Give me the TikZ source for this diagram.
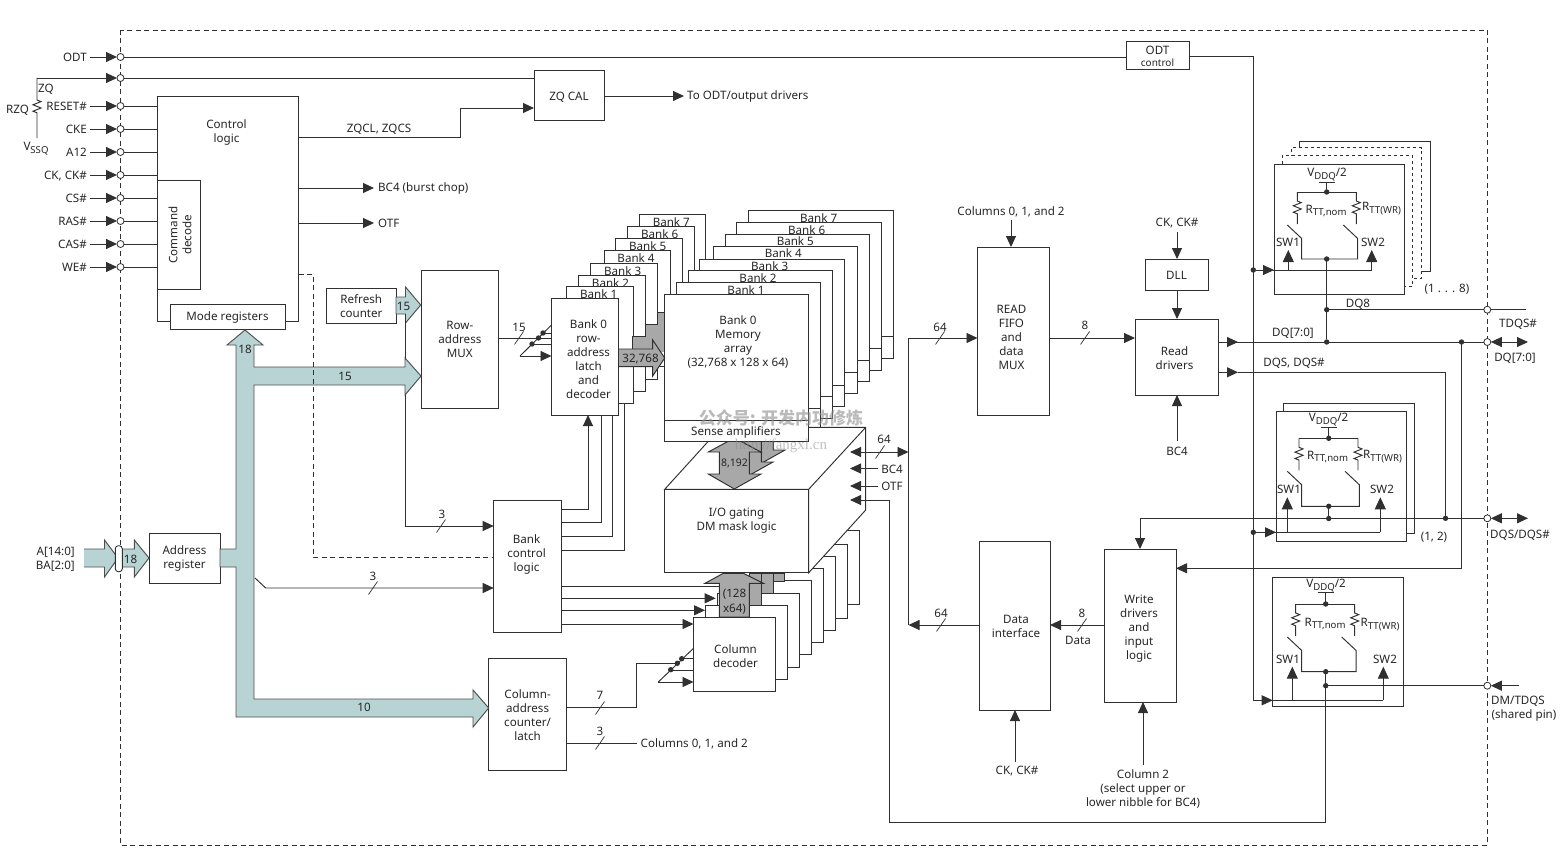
\documentclass[tikz,border=0pt]{standalone}
\usepackage{fontspec}
\setmainfont{Noto Sans}
\newfontfamily\cjk{Noto Sans CJK SC}
\newfontfamily\wmserif{Liberation Serif}
\usetikzlibrary{arrows.meta,calc}
\definecolor{ln}{HTML}{303030}
\definecolor{teal}{HTML}{B7D3D3}
\definecolor{gr}{HTML}{A8A8A8}
\tikzset{
  lab/.style={inner sep=0pt,align=center,text=black!85,yshift=-0.8pt,font=\fontsize{11.6}{14}\selectfont},
  box/.style={draw=ln,line width=1pt,fill=white,inner sep=0pt,outer sep=0pt},
  wire/.style={draw=ln,line width=0.95pt},
  tip/.style={-{Triangle[length=11pt,width=10pt]}},
  ptip/.style={{Triangle[length=11pt,width=10pt]}-{Triangle[length=11pt,width=10pt]}},
  pinc/.style={circle,draw=ln,fill=white,line width=0.8pt,minimum size=7pt,inner sep=0pt,outer sep=0pt},
  dotn/.style={circle,fill=ln,minimum size=5.4pt,inner sep=0pt,outer sep=0pt},
  bus/.style={draw=ln!85,line width=0.95pt,fill=teal},
  gbus/.style={draw=ln,line width=0.95pt,fill=gr}
}
\newcommand\sbs[1]{\raisebox{-2.6pt}{\fontsize{9.6}{10}\selectfont #1}}
\newcommand\blk[6]{\pgfmathsetmacro\blkW{#4-#2}\pgfmathsetmacro\blkH{#5-#3}\pgfmathsetmacro\blkX{(#2+#4)/2}\pgfmathsetmacro\blkY{(#3+#5)/2}\node[box,minimum width=\blkW pt,minimum height=\blkH pt] (#1) at (\blkX,\blkY) {};\if\relax\detokenize{#6}\relax\else\node[lab] at (#1) {#6};\fi}
\newcommand\busmark[2]{\draw[wire,line width=0.7pt] (#1-4.5,#2+6.5) -- (#1+4.5,#2-6.5);}
\newcommand\zigr[4]{\draw[wire] (#1,#2) -- (#1,#3) -- ++(4,1.6) -- ++(-8,3.2) -- ++(8,3.2) -- ++(-8,3.2) -- ++(4,1.6) -- (#1,#4);}
\newcommand\gdbl[2]{\draw[gbus] (734.3+#1,438+#2) -- (761+#1,452+#2) -- (749.3+#1,452+#2) -- (749.3+#1,474+#2) -- (761+#1,474+#2) -- (734.3+#1,489+#2) -- (708.3+#1,474+#2) -- (719.3+#1,474+#2) -- (719.3+#1,452+#2) -- (708.3+#1,452+#2) -- cycle;}
\newcommand\netw[7]{%
  \draw[wire] (#2-8,#4) -- (#2+8,#4);
  \draw[wire] (#2,#4) -- (#2,#5);
  \draw[wire] (#1,#5) -- (#3,#5);
  \zigr{#1}{#5}{#5+9}{#5+32}
  \zigr{#3}{#5}{#5+9}{#5+32}
  \draw[wire] (#7,#5+33) -- (#7+14.4,#5+46.5) -- (#7+14.4,#6) -- (#3+1.4,#6) -- (#3+1.4,#5+46.5) -- (#3-13,#5+33);
  \node[dotn] at (#2,#5) {};
  \node[dotn] at (#2,#6) {};
}
\begin{document}
\begin{tikzpicture}[x=1pt,y=-1pt]
\useasboundingbox (0,0) rectangle (1562,864);
\draw[ln,line width=0.9pt,dash pattern=on 5pt off 3.5pt] (120.5,30) rectangle (1487.3,845);

% decoder bank stack
\foreach \xa/\ya/\t in {639.3/214/7,627.7/226.7/6,615.7/238.7/5,604/250/4,590.7/263/3,578.5/275/2,566.7/286.7/1}{
  \pgfmathsetmacro\xb{\xa+66.5}\pgfmathsetmacro\yb{\ya+116.5}
  \blk{dec\t}{\xa}{\ya}{\xb}{\yb}{}
  \node[lab] at (\xa+32,\ya+7) {Bank \t};
}
\fill[gr] (632.7,336) rectangle (664,352);
\fill[gr] (645.7,324) rectangle (664,340);
\fill[gr] (657.7,312) rectangle (664,328);
\draw[wire] (632.7,349) |- (645.7,336) |- (657.7,324) |- (664,312);
% memory bank stack
\foreach \xa/\ya/\t in {748.7/210.7/7,736.7/222.7/6,725.3/234.3/5,713.3/246.3/4,699.7/259/3,688/270.7/2,676/282.7/1}{
  \pgfmathsetmacro\xb{\xa+144.5}\pgfmathsetmacro\yb{\ya+147.3}\pgfmathsetmacro\yd{\ya+126}
  \blk{mem\t}{\xa}{\ya}{\xb}{\yb}{}
  \draw[wire] (\xa,\yd) -- (\xb,\yd);
  \node[lab] at (\xa+70,\ya+6.2) {Bank \t};
}
% column decoder stack
\foreach \xa/\ya/\n in {777/530.6/7,765.3/544.6/6,753.3/556.6/5,741.3/568.6/4,729.3/580.3/3,717.3/593.3/2,705.3/605.7/1}{
  \pgfmathsetmacro\xb{\xa+82}\pgfmathsetmacro\yb{\ya+73.7}
  \blk{col\n}{\xa}{\ya}{\xb}{\yb}{}
}
\draw[gbus] (773.3,573) rectangle (784.3,581);
\draw[gbus] (761.7,573) rectangle (773.3,593.3);
\draw[gbus] (749.3,573) rectangle (761.7,605.7);
\draw[gbus] (705,583.3) -- (723.3,573.3) -- (743.3,573.3) -- (763.3,583.3) -- (749.3,583.3) -- (749.3,617) -- (719.3,617) -- (719.3,583.3) -- cycle;
\node[lab] at (734.5,593) {(128};
\node[lab] at (734.5,608) {x64)};
% I/O gating 3D block
\draw[wire,fill=white] (664.7,489.3) -- (721,427.3) -- (865.7,427.3) -- (865.7,510) -- (808.7,572.7) -- (808.7,489.3) -- cycle;
\draw[wire] (808.7,489.3) -- (865.7,427.3);
\blk{io}{664.7}{489.3}{808.7}{572.7}{}
\node[lab] at (736.5,520) {I/O gating\\DM mask logic};
\gdbl{24}{-24}
\gdbl{12}{-12}
\gdbl{0}{0}
\draw[wire,dashed,line width=0.6pt] (743,441.7) -- (761,452.7);
\node[lab,font=\fontsize{10.5}{12}\selectfont] at (734.5,463) {8,192};
% bank 0 memory
\blk{mem0}{664.5}{294.3}{808.7}{441.7}{}
\draw[wire] (mem0.west |- 0,420.5) -- (mem0.east |- 0,420.5);
\node[lab] at (738,341) {Bank 0\\Memory\\array\\(32,768 x 128 x 64)};
\node[lab] at (736,432) {Sense amplifiers};
% row decoder front
\draw[gbus] (618.5,349) -- (652.7,349) -- (652.7,340) -- (664.7,358) -- (652.7,376) -- (652.7,366.7) -- (618.5,366.7) -- cycle;
\node[lab] at (640.5,358) {32,768};
\blk{dec0}{551.5}{298.5}{618.5}{415}{}
\node[lab] at (588.5,358) {Bank 0\\row-\\address\\latch\\and\\decoder};
% column decoder front
\blk{coldec}{693.5}{617.3}{775.5}{691}{}
\node[lab] at (735.5,655.5) {Column\\decoder};

% control block
\blk{ctrl}{157.5}{96.5}{298.5}{321}{}
\node[lab] at (226.5,131.5) {Control\\logic};
\blk{cmd}{157.5}{180.5}{200.5}{289}{}
\node[lab,rotate=90,xshift=0.8pt] at (180,235) {Command\\decode};
\blk{mode}{170}{304}{285}{329}{Mode registers}

% pins left
\foreach \n/\t/\y in {ODT/ODT/57,RST/RESET\#/106,CKE/CKE/129,AT/A12/152,CK/{CK, CK\#}/175,CS/CS\#/198,RAS/RAS\#/221,CAS/CAS\#/244,WE/WE\#/267}{
  \node[lab,anchor=east] (l\n) at (87,\y) {\t};
  \node[pinc] (p\n) at (120.5,\y) {};
  \draw[wire,tip] (l\n.east |- p\n) ++(3,0) -- (p\n);
}
\node[pinc] (pZQ) at (120.5,78) {};
\foreach \n in {RST,CKE,AT,CK}{\draw[wire] (p\n) -- (p\n -| ctrl.west);}
\foreach \n in {CS,RAS,CAS,WE}{\draw[wire] (p\n) -- (p\n -| cmd.west);}
% ZQ / RZQ
\coordinate (zqc) at (37,78);
\draw[wire,tip] (zqc) -- (pZQ);
\zigr{37}{78}{100}{138}
\node[lab] at (46,88) {ZQ};
\node[lab] at (17.5,109) {RZQ};
\node[lab] at (36,148) {V\sbs{SSQ}};

% ZQ CAL / ODT control
\blk{zqcal}{534}{71}{604}{121}{ZQ CAL}
\blk{odtc}{1126}{42}{1189}{70}{ODT\\[-2pt]{\fontsize{10}{12}\selectfont control}}
\draw[wire] (pODT) -- (pODT -| odtc.west);
\draw[wire] (pZQ) -- (pZQ -| zqcal.west);
\draw[wire,tip] (ctrl.east |- 0,137) -- (460,137) -- (460,108) -- (zqcal.west |- 0,108);
\node[lab] at (379,128) {ZQCL, ZQCS};
\node[lab,anchor=west] (todt) at (687,95.5) {To ODT/output drivers};
\draw[wire,tip] (zqcal.east |- 0,96) -- (684,96);
\node[lab,anchor=west] (bcl) at (378,188) {BC4 (burst chop)};
\draw[wire,tip] (ctrl.east |- 0,188) -- (374,188);
\node[lab,anchor=west] (otl) at (378,223) {OTF};
\draw[wire,tip] (ctrl.east |- 0,223) -- (374,223);

% address path
\draw[bus] (84,549) -- (104.5,549) -- (104.5,540) -- (118,558) -- (104.5,577) -- (104.5,567) -- (84,567);
\node[lab,anchor=east] at (75,551) {A[14:0]};
\node[lab,anchor=east] at (75,565) {BA[2:0]};
\draw[bus] (122,549) -- (134.3,549) -- (134.3,540) -- (149,558) -- (134.3,577) -- (134.3,567) -- (122,567);
\draw[draw=ln,line width=0.9pt,fill=white,rounded corners=3pt] (115.3,545.7) rectangle (122.3,571.7);
\node[lab] at (130.5,559) {18};
\blk{areg}{149}{533}{220}{583}{Address\\register}
\blk{rowmux}{421}{270}{498.7}{408}{Row-\\address\\MUX}
\blk{refr}{326.5}{288}{396}{323}{Refresh\\counter}
\blk{cac}{488.7}{658.7}{566.5}{770.3}{Column-\\address\\counter/\\latch}
\blk{bank}{493.7}{500}{561.5}{632.3}{}
\node[lab] at (526.5,554) {Bank\\control\\logic};
\draw[bus] (245,330) -- (263,345) -- (254,345) -- (254,367) -- (405,367) -- (405,358) -- (421,376) -- (405,395) -- (405,385) -- (254,385) -- (254,699) -- (473,699) -- (473,690) -- (488.7,708) -- (473,727) -- (473,717) -- (236,717) -- (236,567) -- (220,567) -- (220,549) -- (236,549) -- (236,345) -- (227,345) -- cycle;
\node[lab] at (245,349) {18};
\node[lab] at (345,376) {15};
\node[lab] at (364,707) {10};
\draw[bus] (396,297) -- (405.5,297) -- (405.5,287) -- (420.7,305) -- (405.5,323) -- (405.5,314) -- (396,314) -- cycle;
\node[lab] at (403.5,306) {15};
\draw[wire] (405,314) -- (405,358);
\draw[wire,tip] (405,395) -- (405,526) -- (bank.west |- 0,526);
\busmark{441}{526}
\node[lab] at (442,514) {3};
\draw[wire,tip] (255,578) -- (265.7,588) -- (bank.west |- 0,588);
\busmark{373}{588}
\node[lab] at (373,576) {3};
\draw[ln,line width=0.95pt,dash pattern=on 5pt off 3.5pt] (ctrl.east |- 0,274) -- (313,274) -- (313,557) -- (bank.west |- 0,557);
% row mux to decoder
\coordinate (dr1) at (520,356);
\draw[wire] (rowmux.east |- 0,338) -- (dec0.west |- 0,338);
\draw[wire] (dr1) -- (551.5,325);
\draw[wire] (532,344) -- (dec0.west |- 0,344);
\draw[wire] (543,333) -- (dec0.west |- 0,333);
\draw[wire,tip] (dr1) -- (dec0.west |- dr1);
\foreach \p in {(532,344),(538.5,338),(543,333)}{\node[dotn] at \p {};}
\busmark{519}{338}
\node[lab] at (519,327) {15};
% bank control outputs
\draw[wire,tip] (bank.east |- 0,509.3) -- (588,509.3) -- (588,415);
\draw[wire] (bank.east |- 0,522.7) -- (601,522.7) -- (601,415);
\draw[wire] (bank.east |- 0,536.7) -- (612.7,536.7) -- (612.7,415);
\draw[wire] (bank.east |- 0,550) -- (624.3,550) -- (624.3,403);
\draw[wire] (bank.east |- 0,586.7) -- (719.3,586.7);
\draw[wire,tip] (bank.east |- 0,598.3) -- (715.7,598.3);
\draw[wire,tip] (bank.east |- 0,610.3) -- (705,610.3);
\draw[wire,tip] (bank.east |- 0,624) -- (coldec.west |- 0,624);
% column address
\coordinate (dc1) at (658.3,682);
\draw[wire] (cac.east |- 0,707.7) -- (636,707.7) -- (636,663.3) -- (677.3,663.3);
\draw[wire] (dc1) -- (693.5,648.3);
\draw[wire] (670.7,670) -- (coldec.west |- 0,670);
\draw[wire] (681.7,658.7) -- (coldec.west |- 0,658.7);
\draw[wire,tip] (dc1) -- (coldec.west |- dc1);
\foreach \p in {(670.7,669.7),(677.3,663.3),(681.7,658.7)}{\node[dotn] at \p {};}
\busmark{600}{708}
\node[lab] at (600,695) {7};
\node[lab,anchor=west] (c012) at (640.5,743) {Columns 0, 1, and 2};
\draw[wire] (cac.east |- 0,743) -- (637,743);
\busmark{600}{743}
\node[lab] at (600,731) {3};

% right-hand blocks
\blk{rfifo}{977.5}{247}{1049}{415}{}
\node[lab] at (1011.5,337) {READ\\FIFO\\and\\data\\MUX};
\blk{rdrv}{1135}{319}{1218}{395}{}
\node[lab] at (1174.5,357) {Read\\drivers};
\blk{dll}{1145}{259}{1208}{290}{DLL}
\blk{dint}{979}{541}{1050}{710}{}
\node[lab] at (1016,626) {Data\\interface};
\blk{wdrv}{1104}{549}{1176}{702}{}
\node[lab] at (1139,627.5) {Write\\drivers\\and\\input\\logic};
\draw[wire,tip] (908.5,625) -- (908.5,338) -- (rfifo.west |- 0,338);
\draw[wire,tip] (dint.west |- 0,625) -- (908.5,625);
\busmark{941}{625}
\node[lab] at (941,613) {64};
\busmark{940}{338}
\node[lab] at (940,327) {64};
\draw[wire,ptip] (850,452) -- (908.5,452);
\busmark{880}{452}
\node[lab] at (884,439) {64};
\node[lab] (bc4i) at (892,468.5) {BC4};
\draw[wire,tip] (878,468.5) -- (850,468.5);
\node[lab] (otfi) at (892,486) {OTF};
\draw[wire,tip] (878,486) -- (850,486);
\draw[wire,tip] (rfifo.east |- 0,338) -- (rdrv.west |- 0,338);
\busmark{1085}{338}
\node[lab] at (1085,325) {8};
\draw[wire,tip] (wdrv.west |- 0,625) -- (dint.east |- 0,625);
\busmark{1082}{625}
\node[lab] at (1082,613) {8};
\node[lab] at (1078,640) {Data};
\node[lab] (c012b) at (1011,211) {Columns 0, 1, and 2};
\draw[wire,tip] (1011,220) -- (1011,247);
\node[lab] (ckt) at (1177,222) {CK, CK\#};
\draw[wire,tip] (1177,232) -- (dll.north -| 1177,0);
\draw[wire,tip] (dll.south -| 1177,0) -- (1177,319);
\node[lab] (bc4r) at (1177,451) {BC4};
\draw[wire,tip] (1177,441) -- (1177,395);
\node[lab] (ckb) at (1017,770) {CK, CK\#};
\draw[wire,tip] (1015,762) -- (1015,710);
\node[lab] (col2) at (1143,788) {Column 2\\(select upper or\\lower nibble for BC4)};
\draw[wire,tip] (1143,765) -- (1143,702);

% termination boxes
\draw[wire,fill=white] (1299.7,164) |- (1430,141) |- (1404,271.7);
\draw[ln,line width=0.9pt,dashed,fill=white] (1291,164) |- (1421.3,147.7) |- (1404,278.3);
\draw[ln,line width=0.9pt,dashed,fill=white] (1282.3,164) |- (1412.7,155.8) |- (1404,286.7);
\blk{tA}{1274}{164.7}{1404.7}{294.3}{}
\draw[wire,fill=white] (1283.3,411) |- (1414,403.3) |- (1406,533.7);
\blk{tB}{1276}{411.7}{1406.3}{541.3}{}
\blk{tC}{1272.7}{577}{1403.3}{706.7}{}
\netw{1297.3}{1326.7}{1356.3}{182.7}{192}{259}{1287.3}
\netw{1299}{1328.7}{1358}{427.7}{438.3}{506.3}{1287.3}
\netw{1295.7}{1325.7}{1354.7}{592.3}{604}{671.7}{1287.3}
\node[lab] at (1327,174) {V\sbs{DDQ}/2};
\node[lab] at (1328.5,419) {V\sbs{DDQ}/2};
\node[lab] at (1326,585) {V\sbs{DDQ}/2};
\node[lab,anchor=west] at (1305.5,210) {R\sbs{TT,nom}};
\node[lab,anchor=west] at (1362,208) {R\sbs{TT(WR)}};
\node[lab,anchor=west] at (1307,456) {R\sbs{TT,nom}};
\node[lab,anchor=west] at (1363,456) {R\sbs{TT(WR)}};
\node[lab,anchor=west] at (1304.5,623) {R\sbs{TT,nom}};
\node[lab,anchor=west] at (1360.5,624) {R\sbs{TT(WR)}};
\node[lab] at (1288,242) {SW1};
\node[lab] at (1373,242) {SW2};
\node[lab] at (1289,489) {SW1};
\node[lab] at (1382,489) {SW2};
\node[lab] at (1288,659) {SW1};
\node[lab] at (1385,659) {SW2};
\node[lab] at (1447,288) {(1 . . . 8)};
\node[lab] at (1434,536) {(1, 2)};

% pins right
\node[pinc] (pDQe) at (1487.3,309.7) {};
\node[pinc] (pDQ) at (1487.3,342) {};
\node[pinc] (pDQS) at (1487.3,518.3) {};
\node[pinc] (pDM) at (1487.3,685.7) {};
\coordinate (eDQe) at (1525.7,309.7);
\coordinate (eDQ) at (1528,342);
\coordinate (eDQS) at (1528,518.3);
\coordinate (eDM) at (1519.3,685.7);
\draw[wire] (pDQe) -- (eDQe);
\draw[wire,ptip] (pDQ) -- (eDQ);
\draw[wire,ptip] (pDQS) -- (eDQS);
\draw[wire,tip] (eDM) -- (pDM);
\node[lab] at (1518,323) {TDQS\#};
\node[lab] at (1515,357) {DQ[7:0]};
\node[lab] at (1520,534) {DQS/DQS\#};
\node[lab] at (1518,700) {DM/TDQS};
\node[lab] at (1524,715) {(shared pin)};

% junctions
\node[dotn] (jA) at (1253.3,270) {};
\node[dotn] (jB) at (1253.3,532.3) {};
\node[dotn] (jDQ) at (1326.7,342) {};
\node[dotn] (jDQe) at (1326.7,309.7) {};
\node[dotn] (jDQr) at (1461.5,342) {};
\node[dotn] (jS) at (1445.5,518.3) {};
\node[dotn] (jBs) at (1328.7,518.5) {};
\node[dotn] (jCs) at (1325.7,685.7) {};
\coordinate (topA) at (1326.7,259);
\draw[wire,tip] (odtc.east) -- (odtc.east -| jA) -- (jA.center) -- (jB.center) -- (1253.3,700.3) -- (1272.7,700.3);
\draw[wire,tip] (jA) -- (tA.west |- jA);
\draw[wire,tip] (jB) -- (tB.west |- jB);
\foreach \a/\b/\yy/\ya in {1288.3/1371.7/270/250,1287.3/1380.3/532.3/497.3,1292.3/1383.3/700.3/666.7}{
  \draw[wire] (1273,\yy) -- (\b,\yy);
  \draw[wire,-{Triangle[length=12pt,width=11pt]}] (\a,\yy) -- (\a,\ya);
  \draw[wire,-{Triangle[length=12pt,width=11pt]}] (\b,\yy) -- (\b,\ya);
}
\draw[wire] (rdrv.east |- jDQ) -- (jDQ);
\draw[wire,tip] (rdrv.east |- jDQ) -- (1238,342);
\draw[wire] (jDQ) -- (pDQ);
\draw[wire] (jDQ) -- (jDQe.center) -- (topA);
\draw[wire] (jDQe) -- (pDQe);
\node[lab] at (1293,332) {DQ[7:0]};
\node[lab] at (1358,303) {DQ8};
\draw[wire,tip] (jDQr.center) -- (1461.5,568.3) -- (wdrv.east |- 0,568.3);
\draw[wire,tip] (rdrv.east |- 0,372.3) -- (1238,372.3);
\draw[wire] (1238,372.3) -- (1445.5,372.3) -- (jS.center);
\node[lab] at (1294,362) {DQS, DQS\#};
\draw[wire,tip] (pDQS) -- (1140,518.3) -- (1140,549);
\draw[wire] (jBs) -- (1328.7,506.3);
\draw[wire] (jCs) -- (pDM);
\draw[wire,tip] (jCs.center) -- (1325.7,822) -- (889,822) -- (889,500) -- (850,500);
\draw[wire] (jCs) -- (1325.7,671.7);

% watermark
\node[inner sep=0pt,opacity=0.6,text=black!45] at (781,418) {\cjk\bfseries\fontsize{17}{20}\selectfont 公众号: 开发内功修炼};
\node[inner sep=0pt,opacity=0.55,text=black!45] at (781,445.5) {\wmserif\fontsize{15}{16}\selectfont http://fangxl.cn};
\end{tikzpicture}
\end{document}
